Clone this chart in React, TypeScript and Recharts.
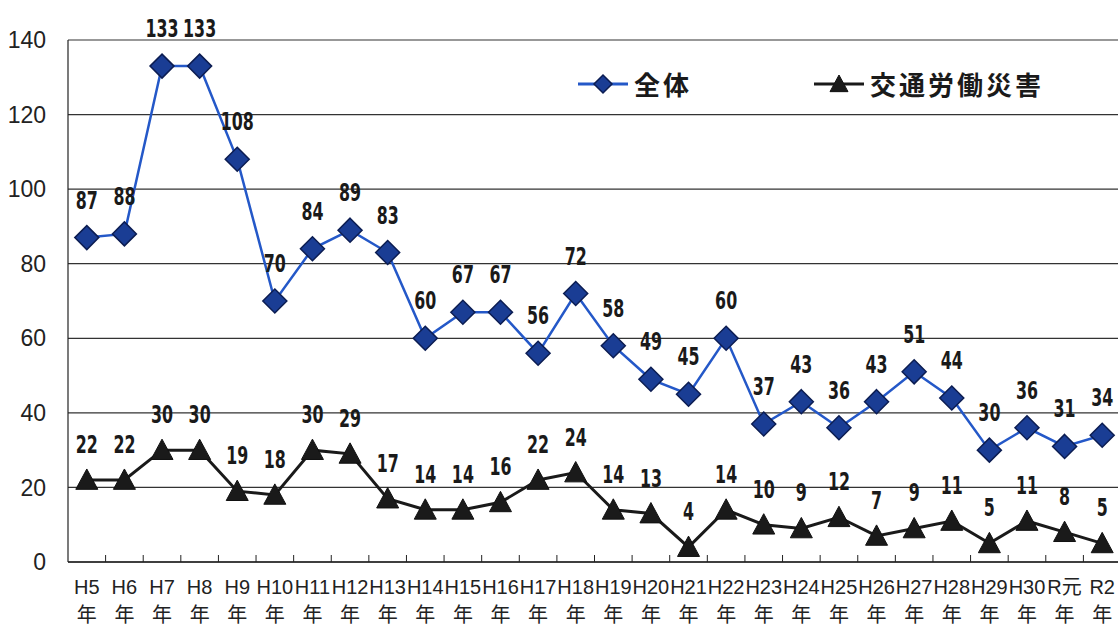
import { CartesianGrid, LabelList, Line, LineChart, XAxis, YAxis } from 'recharts';

const years = [
    'H5', 'H6', 'H7', 'H8', 'H9', 'H10', 'H11', 'H12', 'H13', 'H14', 'H15', 'H16', 'H17', 'H18',
    'H19', 'H20', 'H21', 'H22', 'H23', 'H24', 'H25', 'H26', 'H27', 'H28', 'H29', 'H30', 'R元', 'R2',
];
const totalCases = [
    87, 88, 133, 133, 108, 70, 84, 89, 83, 60, 67, 67, 56, 72, 58, 49, 45, 60, 37, 43, 36, 43, 51, 44, 30, 36, 31, 34,
];
const trafficCases = [
    22, 22, 30, 30, 19, 18, 30, 29, 17, 14, 14, 16, 22, 24, 14, 13, 4, 14, 10, 9, 12, 7, 9, 11, 5, 11, 8, 5,
];
const yTicks = [0, 20, 40, 60, 80, 100, 120, 140];

const SERIES = [
    { key: 'total', name: '全体', color: '#2458c8', marker: 'diamond' },
    { key: 'traffic', name: '交通労働災害', color: '#1a1a1a', marker: 'triangle' },
];

const rows = years.map((y, i) => ({ year: y, total: totalCases[i], traffic: trafficCases[i] }));

const CHART_W = 1121;
const CHART_H = 627;
const Y_AXIS_W = 68;
const STEP = (CHART_W - Y_AXIS_W) / years.length;

const LABEL_FONT = '"DejaVu Sans", sans-serif';
const TEXT_FONT = '"Liberation Sans", Arial, "Noto Sans CJK JP", sans-serif';

function Diamond({ cx, cy, size = 12 }: { cx: number; cy: number; size?: number }) {
    return (
        <path
            d={`M${cx},${cy - size} L${cx + size},${cy} L${cx},${cy + size} L${cx - size},${cy} Z`}
            fill="#1a3d94"
            stroke="#0c1d52"
            strokeWidth={1.5}
        />
    );
}

function Triangle({ cx, cy, size = 11 }: { cx: number; cy: number; size?: number }) {
    return (
        <path
            d={`M${cx},${cy - size} L${cx + size},${cy + size * 0.85} L${cx - size},${cy + size * 0.85} Z`}
            fill="#1a1a1a"
            stroke="#111"
            strokeWidth={1}
        />
    );
}

// narrow bold value label above each point
function makeLabel(lift: number) {
    return (props: any) => {
        const { x, y, value } = props;
        return (
            <text
                transform={`translate(${x},${y - lift}) scale(0.66,1)`}
                textAnchor="middle"
                fontFamily={LABEL_FONT}
                fontWeight={700}
                fontSize={24}
                fill="#1a1a1a"
            >
                {value}
            </text>
        );
    };
}

function XTick(props: any) {
    const { x, y, payload, index } = props;
    return (
        <g>
            {index < years.length - 1 ? (
                <line x1={x + STEP / 2} x2={x + STEP / 2} y1={y} y2={y - 7} stroke="#222" strokeWidth={1} />
            ) : null}
            <text x={x} y={y} textAnchor="middle" fill="#222" fontSize={20} fontFamily={TEXT_FONT}>
                <tspan x={x} dy={32}>
                    {payload.value}
                </tspan>
                <tspan x={x} dy={28}>
                    年
                </tspan>
            </text>
        </g>
    );
}

function LegendOverlay() {
    return (
        <div
            style={{
                position: 'absolute',
                left: 578,
                top: 65,
                display: 'flex',
                alignItems: 'center',
                fontFamily: '"Noto Sans CJK JP", sans-serif',
                fontWeight: 700,
                fontSize: 26,
                letterSpacing: 3,
                color: '#1a1a1a',
            }}
        >
            {SERIES.map((s, i) => (
                <div key={s.key} style={{ display: 'flex', alignItems: 'center', marginRight: i === 0 ? 122 : 0 }}>
                    <svg width={50} height={30}>
                        <line x1={0} x2={50} y1={15} y2={15} stroke={s.color} strokeWidth={3} />
                        {s.marker === 'diamond' ? <Diamond cx={25} cy={15} size={9} /> : <Triangle cx={25} cy={15} size={9} />}
                    </svg>
                    <span style={{ marginLeft: 6 }}>{s.name}</span>
                </div>
            ))}
        </div>
    );
}

export default function App() {
    return (
        <div
            style={{
                position: 'fixed',
                left: 0,
                top: 0,
                width: 1118,
                height: 627,
                overflow: 'hidden',
                background: '#fff',
            }}
        >
            <LineChart width={CHART_W} height={CHART_H} data={rows} margin={{ top: 40, right: 0, left: 0, bottom: 0 }}>
                <CartesianGrid vertical={false} stroke="#333" strokeWidth={1.2} />
                <XAxis
                    dataKey="year"
                    interval={0}
                    height={65}
                    tickSize={0}
                    tickMargin={0}
                    tickLine={false}
                    padding={{ left: STEP / 2, right: STEP / 2 }}
                    axisLine={{ stroke: '#222', strokeWidth: 1.5 }}
                    tick={<XTick />}
                />
                <YAxis
                    width={Y_AXIS_W}
                    domain={[0, 140]}
                    ticks={yTicks}
                    interval={0}
                    tickLine={false}
                    tickMargin={22}
                    tickSize={0}
                    axisLine={{ stroke: '#222', strokeWidth: 1.2 }}
                    tick={{ fontSize: 23, fill: '#222', fontFamily: TEXT_FONT }}
                />
                <Line
                    dataKey="total"
                    name="全体"
                    stroke="#2458c8"
                    strokeWidth={2.5}
                    isAnimationActive={false}
                    dot={(p: any) => <Diamond key={`d${p.index}`} cx={p.cx} cy={p.cy} />}
                    activeDot={false}
                >
                    <LabelList dataKey="total" content={makeLabel(29)} />
                </Line>
                <Line
                    dataKey="traffic"
                    name="交通労働災害"
                    stroke="#1a1a1a"
                    strokeWidth={3}
                    isAnimationActive={false}
                    dot={(p: any) => <Triangle key={`t${p.index}`} cx={p.cx} cy={p.cy} />}
                    activeDot={false}
                >
                    <LabelList dataKey="traffic" content={makeLabel(27)} />
                </Line>
            </LineChart>
            <LegendOverlay />
        </div>
    );
}
